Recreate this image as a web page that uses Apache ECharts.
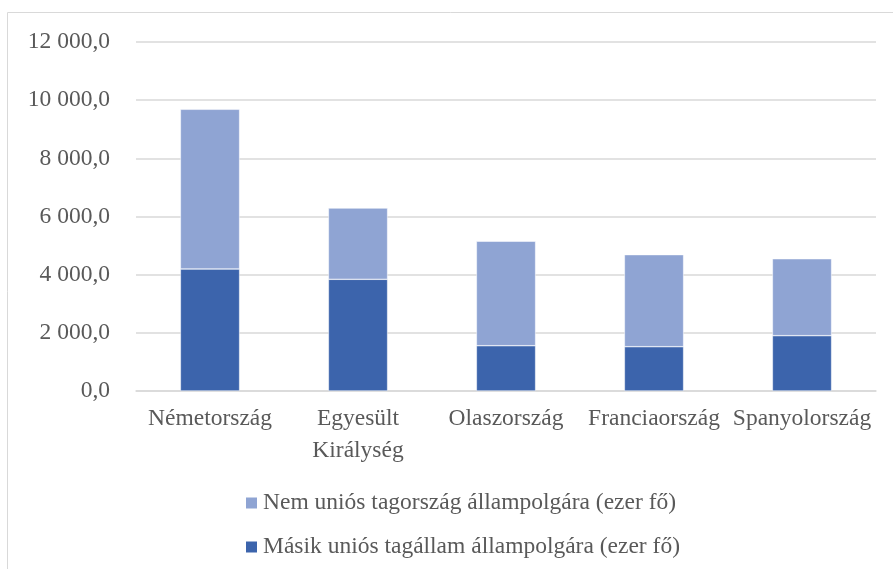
<!DOCTYPE html>
<html>
<head>
<meta charset="utf-8">
<script src="https://cdn.jsdelivr.net/npm/echarts@6/dist/echarts.min.js"></script>
<style>
  html, body { margin: 0; padding: 0; background: #fff; }
  #chart { width: 893px; height: 569px; }
</style>
</head>
<body>
<div id="chart"></div>
<script>
// adatok (ezer fő)
const categories = ['Németország', 'Egyesült\nKirálység', 'Olaszország', 'Franciaország', 'Spanyolország'];
const masikUnios = [4195, 3840, 1558, 1524, 1903];
const nemUnios = [5490, 2450, 3590, 3165, 2645];
const yTicks = [0, 2000, 4000, 6000, 8000, 10000, 12000];

const font = '"Liberation Serif", "Times New Roman", serif';
const textColor = '#595959';

function fmt(v) {
  // 12 000,0 formátum
  const s = Math.round(v).toString().replace(/\B(?=(\d{3})+(?!\d))/g, ' ');
  return s + ',0';
}

let myChart = echarts.init(document.getElementById('chart'));
myChart.setOption({
  animation: false,
  graphic: [{
    type: 'rect',
    shape: { x: 7.5, y: 12.5, width: 900, height: 600 },
    style: { fill: 'none', stroke: '#d9d9d9', lineWidth: 1 },
    silent: true
  }],
  grid: { left: 136, right: 17, top: 42, bottom: 178 },
  xAxis: {
    type: 'category',
    data: categories,
    axisLine: { show: true, lineStyle: { color: '#d9d9d9', width: 1.5 } },
    axisTick: { show: false },
    axisLabel: {
      color: textColor, fontFamily: font, fontSize: 23.5,
      margin: 12, lineHeight: 32, interval: 0
    }
  },
  yAxis: {
    type: 'value',
    min: yTicks[0],
    max: yTicks[yTicks.length - 1],
    interval: 2000,
    axisLine: { show: false },
    axisTick: { show: false },
    splitLine: { lineStyle: { color: '#d9d9d9', width: 1.5 } },
    axisLabel: {
      color: textColor, fontFamily: font, fontSize: 23.5, margin: 26,
      formatter: fmt
    }
  },
  legend: {
    orient: 'vertical',
    left: 239,
    top: 486,
    itemWidth: 13,
    itemHeight: 13,
    itemGap: 20,
    icon: 'rect',
    data: ['Nem uniós tagország állampolgára (ezer fő)', 'Másik uniós tagállam állampolgára (ezer fő)'],
    textStyle: { color: textColor, fontFamily: font, fontSize: 23.5, lineHeight: 24, padding: [0, 0, 0, 0] }
  },
  series: [
    {
      name: 'Másik uniós tagállam állampolgára (ezer fő)',
      type: 'bar',
      stack: 'total',
      barWidth: '40%',
      data: masikUnios,
      itemStyle: { color: '#3C64AC', borderColor: '#ffffff', borderWidth: 0.5 }
    },
    {
      name: 'Nem uniós tagország állampolgára (ezer fő)',
      type: 'bar',
      stack: 'total',
      barWidth: '40%',
      data: nemUnios,
      itemStyle: { color: '#8FA4D3', borderColor: '#ffffff', borderWidth: 0.5 }
    }
  ]
});
</script>
</body>
</html>
